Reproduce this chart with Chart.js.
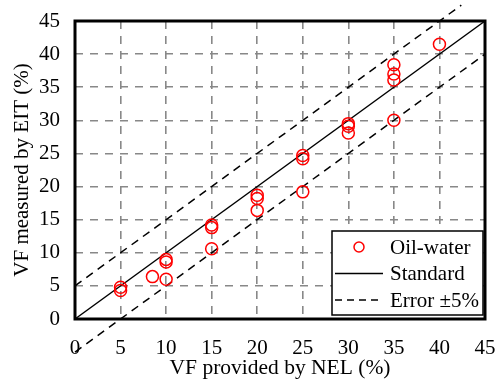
<!DOCTYPE html>
<html>
<head>
<meta charset="utf-8">
<script src="https://cdn.jsdelivr.net/npm/chart.js@4.4.0/dist/chart.umd.min.js"></script>
<style>
  html, body { margin: 0; padding: 0; background: #fff; }
  #wrap { width: 498px; height: 381px; }
</style>
</head>
<body>
<div id="wrap"><canvas id="grafico" width="498" height="381"></canvas></div>
<script>
// valores
const nelX = [5, 5, 8.5, 10, 10, 10, 15, 15, 15, 20, 20, 20, 25, 25, 25, 30, 30, 30, 35, 35, 35, 35, 40];
const eitY = [4.8, 4.3, 6.4, 9.0, 8.6, 6.0, 14.2, 13.8, 10.6, 18.7, 18.2, 16.4, 24.7, 24.2, 19.2, 29.5, 29.1, 28.1, 38.4, 37.0, 36.1, 30.0, 41.5];
const estandarX = [0, 45];
const estandarY = [0, 45];
const errorSupX = [0, 42.4];
const errorSupY = [5, 47.4];
const errorInfX = [0, 45];
const errorInfY = [-5, 40];
const ticksEje = [0, 5, 10, 15, 20, 25, 30, 35, 40, 45];

const fuente = "'Liberation Serif', 'Times New Roman', serif";
const aPuntos = (xs, ys) => xs.map((x, i) => ({ x, y: ys[i] }));

const leyenda = [
  { texto: 'Oil-water', tipo: 'circulo' },
  { texto: 'Standard', tipo: 'linea' },
  { texto: 'Error \u00b15%', tipo: 'guiones' },
];

const marcoYLeyenda = {
  id: 'marcoYLeyenda',
  afterDraw(chart) {
    const { ctx, chartArea: a } = chart;
    ctx.save();
    // marco completo
    ctx.strokeStyle = '#000';
    ctx.lineWidth = 3;
    ctx.setLineDash([]);
    ctx.strokeRect(a.left, a.top, a.right - a.left, a.bottom - a.top);

    // leyenda dentro del área
    const bx = a.right - 153, by = a.bottom - 88, bw = 151, bh = 84;
    ctx.fillStyle = '#fff';
    ctx.fillRect(bx, by, bw, bh);
    ctx.lineWidth = 1.5;
    ctx.strokeRect(bx, by, bw, bh);
    ctx.font = '21px ' + fuente;
    ctx.textBaseline = 'middle';
    ctx.textAlign = 'left';
    leyenda.forEach((item, i) => {
      const cy = by + 16 + i * 26.5;
      ctx.strokeStyle = item.tipo === 'circulo' ? '#ff0000' : '#000';
      ctx.lineWidth = 1.5;
      if (item.tipo === 'circulo') {
        ctx.beginPath();
        ctx.arc(bx + 27, cy, 5, 0, Math.PI * 2);
        ctx.stroke();
      } else {
        ctx.setLineDash(item.tipo === 'guiones' ? [7, 5] : []);
        ctx.beginPath();
        ctx.moveTo(bx + 3, cy);
        ctx.lineTo(bx + 51, cy);
        ctx.stroke();
        ctx.setLineDash([]);
      }
      ctx.fillStyle = '#000';
      ctx.fillText(item.texto, bx + 58, cy + 1);
    });
    ctx.restore();
  }
};

const lineaDataset = (label, xs, ys, dash) => ({
  type: 'scatter',
  label,
  data: aPuntos(xs, ys),
  showLine: true,
  borderColor: '#000',
  borderWidth: 1.5,
  borderDash: dash,
  pointRadius: 0,
  clip: false,
  fill: false,
});

const config = {
  type: 'scatter',
  data: {
    datasets: [
      {
        label: 'Oil-water',
        data: aPuntos(nelX, eitY),
        borderColor: '#ff0000',
        backgroundColor: 'rgba(0,0,0,0)',
        borderWidth: 1.5,
        pointRadius: 6,
        pointStyle: 'circle',
      },
      lineaDataset('Standard', estandarX, estandarY, []),
      lineaDataset('Error +5%', errorSupX, errorSupY, [8, 6]),
      lineaDataset('Error -5%', errorInfX, errorInfY, [8, 6]),
    ]
  },
  options: {
    responsive: false,
    animation: false,
    layout: { padding: { top: 21, right: 13, left: 0, bottom: 0 } },
    plugins: { legend: { display: false }, tooltip: { enabled: false } },
    scales: {
      x: {
        type: 'linear',
        min: 0, max: 45,
        afterBuildTicks: (s) => { s.ticks = ticksEje.map(v => ({ value: v })); },
        afterFit: (s) => { s.height = 62; s.paddingLeft = 0; s.paddingRight = 0; },
        ticks: { color: '#000', font: { family: fuente, size: 21 }, padding: 17, maxRotation: 0 },
        grid: { color: '#888888', lineWidth: 1.6, drawTicks: false },
        border: { display: false, dash: [8, 7] },
        title: { display: true, text: 'VF provided by NEL (%)', color: '#000', font: { family: fuente, size: 21.5 }, padding: { top: 0, bottom: 0 } },
      },
      y: {
        type: 'linear',
        min: 0, max: 45,
        afterBuildTicks: (s) => { s.ticks = ticksEje.map(v => ({ value: v })); },
        afterFit: (s) => { s.width = 75; s.paddingTop = 0; s.paddingBottom = 0; },
        ticks: { color: '#000', font: { family: fuente, size: 21 }, padding: 15 },
        grid: { color: '#888888', lineWidth: 1.6, drawTicks: false },
        border: { display: false, dash: [8, 7] },
        title: { display: true, text: 'VF measured by EIT (%)', color: '#000', font: { family: fuente, size: 21 }, padding: { top: 10, bottom: 0 } },
      }
    }
  },
  plugins: [marcoYLeyenda]
};

new Chart(document.getElementById('grafico').getContext('2d'), config);
</script>
</body>
</html>
